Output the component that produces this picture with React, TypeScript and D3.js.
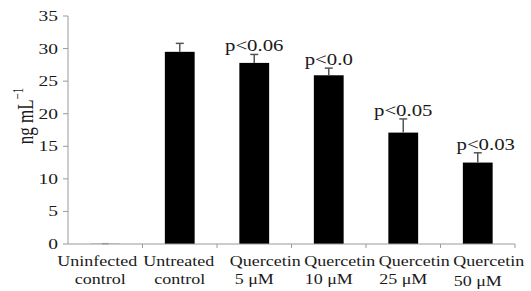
import React from 'react'
import * as d3 from 'd3'

// chart values
const categories = ['Uninfected control', 'Untreated control', 'Quercetin 5 μM', 'Quercetin 10 μM', 'Quercetin 25 μM', 'Quercetin 50 μM']
const labelLines = [['Uninfected', 'control'], ['Untreated', 'control'], ['Quercetin', '5 μM'], ['Quercetin', '10 μM'], ['Quercetin', '25 μM'], ['Quercetin', '50 μM']]
const means = [0.05, 29.5, 27.8, 25.9, 17.1, 12.5]
const errors = [0, 1.3, 1.3, 1.1, 2.1, 1.5]
const pLabels = ['', '', 'p<0.06', 'p<0.0', 'p<0.05', 'p<0.03']
const yTicks = [0, 5, 10, 15, 20, 25, 30, 35]

const W = 531
const H = 291
const margin = { left: 68, right: 16, top: 16, bottom: 47 }
const axisColor = '#9a9a9a'
const textColor = '#1a1a1a'
const font = '"Liberation Serif", "Times New Roman", serif'
const sx = 1.3 // the reference is stretched sideways

export default function App() {
	const x = d3.scaleBand<string>()
		.domain(categories)
		.range([margin.left, W - margin.right])
		.paddingInner(0.6)
		.paddingOuter(0.3)
	const y = d3.scaleLinear().domain([0, 35]).range([H - margin.bottom, margin.top])
	const step = x.step()
	const x0 = margin.left
	const bw = x.bandwidth()

	return (
		<svg width={W} height={H} style={{ position: 'absolute', left: 0, top: 0, background: 'white' }} fontFamily={font}>
			{/* bars */}
			{categories.map((c, i) => (
				<rect key={c} x={x(c)} y={y(means[i])} width={bw} height={y(0) - y(means[i])}
					fill={i === 0 ? '#888' : 'black'} />
			))}

			{/* error bars, upper half only */}
			{categories.map((c, i) => {
				const cx = x(c)! + bw / 2
				const top = y(means[i] + errors[i])
				const capW = i === 0 ? 7 : 8
				return (
					<g key={c} stroke={i === 0 ? '#999' : '#555'} strokeWidth={1.5}>
						<line x1={cx} x2={cx} y1={y(means[i])} y2={top} />
						<line x1={cx - capW / 2} x2={cx + capW / 2} y1={top} y2={top} />
					</g>
				)
			})}

			{/* significance labels */}
			{categories.map((c, i) => pLabels[i] && (
				<text key={c} transform={`translate(${x(c)! + bw / 2 + (i === 5 ? 8 : 0)},${y(means[i] + errors[i]) - 3}) scale(${sx},1)`}
					textAnchor="middle" fontSize={16} fill={textColor}>{pLabels[i]}</text>
			))}

			{/* y axis */}
			<line x1={x0} x2={x0} y1={y(35)} y2={y(0)} stroke={axisColor} />
			{yTicks.map(t => (
				<g key={t}>
					<line x1={x0 - 5} x2={x0} y1={y(t)} y2={y(t)} stroke={axisColor} />
					<text transform={`translate(${x0 - 10},${y(t) + 5}) scale(${sx},1)`} textAnchor="end"
						fontSize={15} fill={textColor}>{t}</text>
				</g>
			))}

			{/* x axis */}
			<line x1={x0} x2={W - margin.right} y1={y(0)} y2={y(0)} stroke={axisColor} />
			{categories.map((c, i) => (
				<line key={c} x1={x0 + step * (i + 1)} x2={x0 + step * (i + 1)} y1={y(0)} y2={y(0) + 4} stroke={axisColor} />
			))}
			{categories.map((c, i) => {
				const cx = x(c)! + bw / 2
				const dx = i === 0 ? -8 : i === 1 ? -1 : 11
				return (
					<g key={c} fontSize={15} fill={textColor}>
						<text transform={`translate(${cx + dx},${y(0) + 22}) scale(1.2,1)`} textAnchor="middle">{labelLines[i][0]}</text>
						<text transform={`translate(${cx + (i === 0 ? -5 : 0)},${y(0) + 40 + (i === 5 ? 2 : 0)}) scale(1.2,1)`} textAnchor="middle">{labelLines[i][1]}</text>
					</g>
				)
			})}

			{/* y label */}
			<text transform={`translate(33,116) scale(1.4,1) rotate(-90)`} textAnchor="middle" fontSize={17} fill={textColor}>
				ng mL<tspan dy={-7} fontSize={11}>−1</tspan>
			</text>
		</svg>
	)
}
